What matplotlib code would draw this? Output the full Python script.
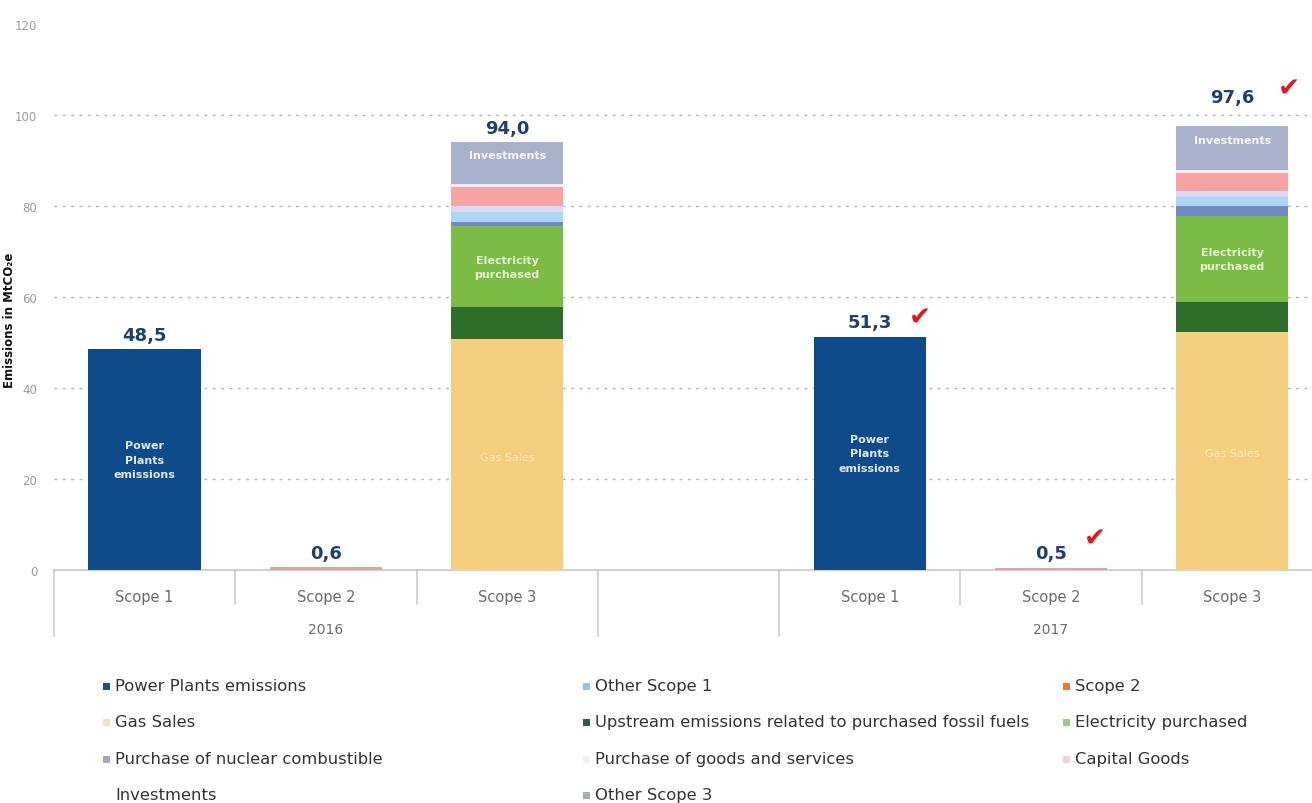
import matplotlib
matplotlib.use("Agg")
import matplotlib.pyplot as plt
import matplotlib.transforms as mtransforms
import numpy as np

# ---------------- data ----------------
categories = ["Scope 1", "Scope 2", "Scope 3", "", "Scope 1", "Scope 2", "Scope 3"]
years = ["2016", "2017"]

scope1_x = [0, 4]
scope2_x = [1, 5]
scope3_x = [2, 6]

power_plants = [48.5, 51.3]
other_scope1 = [0.0, 0.0]
scope2 = [0.6, 0.5]

gas_sales = [50.8, 52.3]
upstream = [7.0, 6.6]
electricity = [17.8, 18.9]
nuclear = [0.9, 2.2]
goods_services = [2.2, 2.0]
other_scope3 = [1.3, 1.3]
capital_goods = [4.4, 4.2]
investments = [9.6, 10.1]

legend_labels = [
    "Power Plants emissions", "Other Scope 1", "Scope 2",
    "Gas Sales", "Upstream emissions related to purchased fossil fuels", "Electricity purchased",
    "Purchase of nuclear combustible", "Purchase of goods and services", "Capital Goods",
    "Investments", "Other Scope 3",
]
legend_colors = [
    "#1f4e79", "#8fc3ea", "#e8783a",
    "#eee3c4", "#2e5e3a", "#9ccc7a",
    "#9ea8c8", "#f1f1f1", "#f8d0d0",
    "#ffffff", "#a8acb4",
]
checked = [(4, 51.3), (5, 0.5), (6, 97.6)]

# ---------------- style ----------------
C_POWER = "#0f4a8a"
C_OTHER1 = "#8fc3ea"
C_SCOPE2 = "#dba69e"
C_GAS = "#f5cf80"
C_UP = "#2f6e2a"
C_ELEC = "#7dbb47"
C_NUC = "#7389c2"
C_GOODS = "#acd6f2"
C_OTH3 = "#dcdaf0"
C_CAP = "#f7a3a3"
C_INV = "#a9b2cb"
NAVY = "#1f3f6e"

plt.rcParams['font.family'] = ['DejaVu Sans']

W, H = 1312, 804
fig = plt.figure(figsize=(W / 100, H / 100), dpi=100)
ax_left = 54 / W
ax_bottom = (H - 571) / H
ax_top = (H - 25) / H
ax = fig.add_axes([ax_left, ax_bottom, 1 - ax_left, ax_top - ax_bottom])
ax.set_xlim(-0.5, 6.44)
ax.set_ylim(0, 120)

bw = 0.62
# Scope 1
ax.bar(scope1_x, power_plants, width=bw, color=C_POWER, linewidth=0, zorder=3)
ax.bar(scope1_x, other_scope1, bottom=power_plants, width=bw, color=C_OTHER1, linewidth=0, zorder=3)
# Scope 2
ax.bar(scope2_x, scope2, width=bw, color=C_SCOPE2, linewidth=0, zorder=3)
# Scope 3 stacked
stack = [gas_sales, upstream, electricity, nuclear, goods_services, other_scope3, capital_goods, investments]
stack_cols = [C_GAS, C_UP, C_ELEC, C_NUC, C_GOODS, C_OTH3, C_CAP, C_INV]
bottom = np.zeros(len(scope3_x))
for vals, col in zip(stack, stack_cols):
    ax.bar(scope3_x, vals, bottom=bottom, width=bw, color=col, linewidth=0, zorder=3)
    bottom = bottom + np.array(vals)
# thin white separator above capital goods
cap_top = np.array(gas_sales) + np.array(upstream) + np.array(electricity) + np.array(nuclear) \
    + np.array(goods_services) + np.array(other_scope3) + np.array(capital_goods)
for x, y in zip(scope3_x, cap_top):
    ax.plot([x - bw / 2, x + bw / 2], [y + 0.3, y + 0.3], color="#f4f0f4", lw=2, zorder=4)

# totals
scope1_tot = np.array(power_plants) + np.array(other_scope1)
scope3_tot = bottom
totals = [(x, v) for x, v in zip(scope1_x, scope1_tot)] + \
         [(x, v) for x, v in zip(scope2_x, scope2)] + \
         [(x, v) for x, v in zip(scope3_x, scope3_tot)]
for x, v in totals:
    off = 14 if (x == 6) else 4
    ax.annotate(f"{v:.1f}".replace(".", ","), (x, v), xytext=(0, off), textcoords="offset points",
                ha="center", va="bottom", fontsize=13, fontweight="bold", color=NAVY, zorder=5)

# check marks (offsets in points)
check_offsets = {4: (36, 14), 5: (32, 21), 6: (41, 27)}
for x, v in checked:
    dx, dy = check_offsets[x]
    ax.annotate("\u2714", (x, v), xytext=(dx, dy), textcoords="offset points",
                ha="center", va="center", fontsize=19, color="#e8141e", zorder=5)

# in-bar labels
for x, v in zip(scope1_x, power_plants):
    ax.text(x, v * 0.5, "Power\nPlants\nemissions", ha="center", va="center", fontsize=8,
            fontweight="bold", color="#dfe9f6", linespacing=1.55, zorder=5)
for x, v in zip(scope3_x, gas_sales):
    ax.text(x, v * 0.49, "Gas Sales", ha="center", va="center", fontsize=8,
            color="#fbe6b6", zorder=5)
elec_mid = np.array(gas_sales) + np.array(upstream) + np.array(electricity) * 0.5
for x, y in zip(scope3_x, elec_mid):
    ax.text(x, y, "Electricity\npurchased", ha="center", va="center", fontsize=8,
            fontweight="bold", color="#e2f3cf", linespacing=1.5, zorder=5)
inv_mid = cap_top + np.array(investments) * 0.7
for x, y in zip(scope3_x, inv_mid):
    ax.text(x, y, "Investments", ha="center", va="center", fontsize=8,
            fontweight="bold", color="#f4f6fb", zorder=5)

# axes styling
for s in ["top", "right", "left"]:
    ax.spines[s].set_visible(False)
ax.spines["bottom"].set_color("#c8c8c8")
ax.spines["bottom"].set_linewidth(1.2)
ax.set_yticks(range(0, 121, 20))
ax.set_yticklabels([str(v) for v in range(0, 121, 20)], fontsize=8.5, color="#9a9a9a")
ax.tick_params(axis="y", length=0, pad=12)
for yv in range(20, 101, 20):
    ax.axhline(yv, color="#b5b5b5", lw=1.0, ls=(0, (2, 4)), zorder=1)

ax.set_xticks(range(len(categories)))
ax.set_xticklabels(categories, fontsize=10.5, color="#6a6a6a")
ax.tick_params(axis="x", length=0, pad=14)

trans = mtransforms.blended_transform_factory(ax.transData, ax.transAxes)
long_b = [-0.5, 2.5, 3.5]
short_b = [0.5, 1.5, 4.5, 5.5]
for xb in long_b:
    ax.plot([xb, xb], [0, -66 / 546], transform=trans, color="#c8c8c8", lw=1.1, clip_on=False)
for xb in short_b:
    ax.plot([xb, xb], [0, -34 / 546], transform=trans, color="#c8c8c8", lw=1.1, clip_on=False)
for xc, yr in zip(scope2_x, years):
    ax.text(xc, -59 / 546, yr, transform=trans, ha="center", va="center", fontsize=10,
            color="#6a6a6a")

# y label
fig.text(10 / W, (H - 320) / H, "Emissions in MtCO\u2082e", rotation=90, ha="center", va="center",
         fontsize=8.5, fontweight="bold", color="#111111")

# legend (manual, 3 columns)
col_x = [103, 583, 1063]
row_y = [687, 723, 760, 796]
for i, (lab, col) in enumerate(zip(legend_labels, legend_colors)):
    r, c = divmod(i, 3)
    fx = col_x[c] / W
    fy = (H - row_y[r]) / H
    fig.patches.append(plt.Rectangle((fx, fy - 3.5 / H), 7 / W, 7 / H, transform=fig.transFigure,
                                     facecolor=col, edgecolor="none"))
    fig.text(fx + 12 / W, fy, lab, ha="left", va="center", fontsize=11.8, color="#333333")

fig.savefig("out.png", dpi=100)
